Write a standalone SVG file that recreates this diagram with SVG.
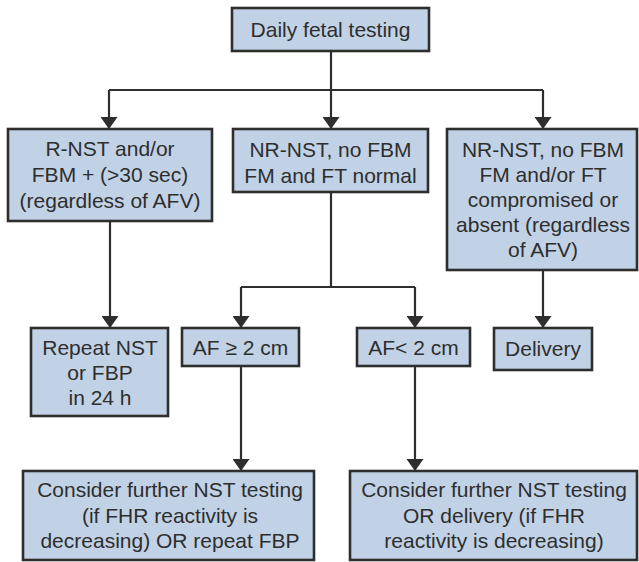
<svg xmlns="http://www.w3.org/2000/svg" width="639" height="562" viewBox="0 0 639 562">
  <defs>
    <marker id="arrow" viewBox="0 0 12 17" refX="12" refY="8.5" markerWidth="12" markerHeight="17" markerUnits="userSpaceOnUse" orient="auto">
      <path d="M0,0 L12,8.5 L0,17 Z" fill="#2e2e2e"/>
    </marker>
  </defs>
  <style>
    .box { fill: #c1d2e6; stroke: #2e2e2e; stroke-width: 2.6; }
    .lbl { font-family: "Liberation Sans", Arial, sans-serif; font-size: 21px; fill: #2e2e2e; text-anchor: middle; }
    .wire { fill: none; stroke: #2e2e2e; stroke-width: 2.2; }
  </style>
  <rect width="639" height="562" fill="#ffffff"/>

  <!-- connectors: trunk lines plus arrowed drops into each box -->
  <g id="connectors">
    <path class="wire" d="M331,51 V90"/>
    <path class="wire" d="M109,90 H543"/>
    <path class="wire" d="M109,90 V129" marker-end="url(#arrow)"/>
    <path class="wire" d="M331,90 V129" marker-end="url(#arrow)"/>
    <path class="wire" d="M543,90 V129" marker-end="url(#arrow)"/>
    <path class="wire" d="M110,221 V328" marker-end="url(#arrow)"/>
    <path class="wire" d="M331,192 V287"/>
    <path class="wire" d="M241,287 H415"/>
    <path class="wire" d="M241,287 V328" marker-end="url(#arrow)"/>
    <path class="wire" d="M415,287 V328" marker-end="url(#arrow)"/>
    <path class="wire" d="M543,270 V328" marker-end="url(#arrow)"/>
    <path class="wire" d="M241,366 V471" marker-end="url(#arrow)"/>
    <path class="wire" d="M415,366 V471" marker-end="url(#arrow)"/>
  </g>

  <g id="daily-testing">
    <rect class="box" x="232" y="8" width="197" height="43"/>
    <text class="lbl" x="330.5" y="37">Daily fetal testing</text>
  </g>

  <g id="reactive">
    <rect class="box" x="8" y="129" width="204" height="92"/>
    <text class="lbl" x="110" y="156">R-NST and/or</text>
    <text class="lbl" x="110" y="182">FBM + (&gt;30 sec)</text>
    <text class="lbl" x="110" y="208">(regardless of AFV)</text>
  </g>

  <g id="nonreactive-normal">
    <rect class="box" x="233" y="129" width="195" height="63"/>
    <text class="lbl" x="330.5" y="157">NR-NST, no FBM</text>
    <text class="lbl" x="330.5" y="183">FM and FT normal</text>
  </g>

  <g id="nonreactive-compromised">
    <rect class="box" x="447" y="129" width="190" height="141"/>
    <text class="lbl" x="543" y="157">NR-NST, no FBM</text>
    <text class="lbl" x="543" y="182">FM and/or FT</text>
    <text class="lbl" x="543" y="207">compromised or</text>
    <text class="lbl" x="543" y="232">absent (regardless</text>
    <text class="lbl" x="543" y="257">of AFV)</text>
  </g>

  <g id="repeat">
    <rect class="box" x="31" y="328" width="137" height="88"/>
    <text class="lbl" x="100" y="355">Repeat NST</text>
    <text class="lbl" x="100" y="380">or FBP</text>
    <text class="lbl" x="100" y="405">in 24 h</text>
  </g>

  <g id="af-normal">
    <rect class="box" x="182" y="328" width="117" height="38"/>
    <text class="lbl" x="240.5" y="355">AF ≥ 2 cm</text>
  </g>

  <g id="af-low">
    <rect class="box" x="357" y="328" width="113" height="38"/>
    <text class="lbl" x="413.5" y="355">AF&lt; 2 cm</text>
  </g>

  <g id="delivery">
    <rect class="box" x="494" y="328" width="98" height="42"/>
    <text class="lbl" x="543" y="356">Delivery</text>
  </g>

  <g id="further-testing-fbp">
    <rect class="box" x="23" y="471" width="291" height="89"/>
    <text class="lbl" x="170" y="497">Consider further NST testing</text>
    <text class="lbl" x="170" y="523">(if FHR reactivity is</text>
    <text class="lbl" x="170" y="548">decreasing) OR repeat FBP</text>
  </g>

  <g id="further-testing-delivery">
    <rect class="box" x="350" y="471" width="287" height="89"/>
    <text class="lbl" x="494" y="497">Consider further NST testing</text>
    <text class="lbl" x="494" y="523">OR delivery (if FHR</text>
    <text class="lbl" x="494" y="548">reactivity is decreasing)</text>
  </g>
</svg>
